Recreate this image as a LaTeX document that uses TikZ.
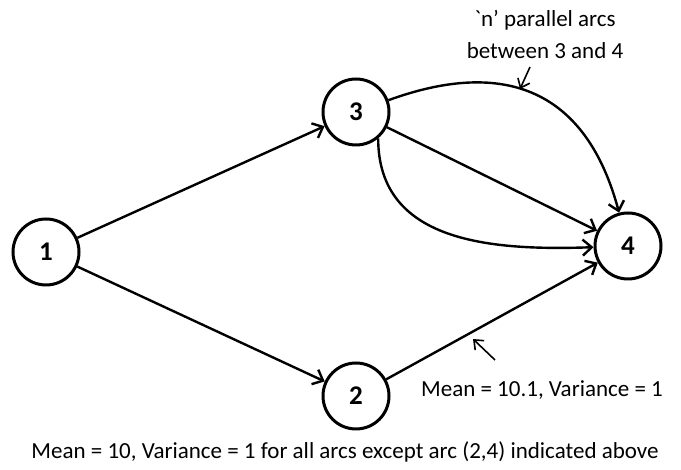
\documentclass[tikz,border=0pt]{standalone}
\usepackage{fontspec}
\setmainfont{Carlito}
\usetikzlibrary{arrows.meta}

\begin{document}
\begin{tikzpicture}[x=1pt,y=1pt,
    event/.style={circle,draw,line width=3pt,minimum size=66pt,inner sep=0pt,font=\fontsize{27}{27}\selectfont\bfseries},
    arc/.style={line width=2.4pt,-{Straight Barb[length=9pt,width=16pt]}},
    note/.style={line width=1.6pt,-{Straight Barb[length=8pt,width=13pt]}},
    lbl/.style={font=\fontsize{23}{32}\selectfont,align=center}]
    \useasboundingbox (0,0) rectangle (681,470);
    % events
    \node[event] (n1) at (46,218) {1};
    \node[event] (n3) at (356,358) {3};
    \node[event] (n2) at (356,74) {2};
    \node[event] (n4) at (628,224) {4};
    % activities
    \draw[arc] (n1) -- (n3);
    \draw[arc] (n1) -- (n2);
    \draw[arc] (n2) -- (n4);
    \draw[arc] (n3) -- (n4);
    \draw[arc] (n3) to[out=20,in=105,looseness=1.25] (n4);
    \draw[arc] (n3.-50) to[out=-90,in=182,looseness=1.1] (n4);
    % notes
    \node[lbl] (top) at (545,436) {\textasciigrave n’ parallel arcs\\between 3 and 4};
    \coordinate (topend) at (520,381);
    \draw[note] (530,403) -- (topend);
    \node[lbl] (mean24) at (542,80) {Mean = 10.1, Variance = 1};
    \coordinate (meanend) at (473,131);
    \draw[note] (495,110) -- (meanend);
    \node[lbl] (bottom) at (345,18) {Mean = 10, Variance = 1 for all arcs except arc (2,4) indicated above};
\end{tikzpicture}
\end{document}
